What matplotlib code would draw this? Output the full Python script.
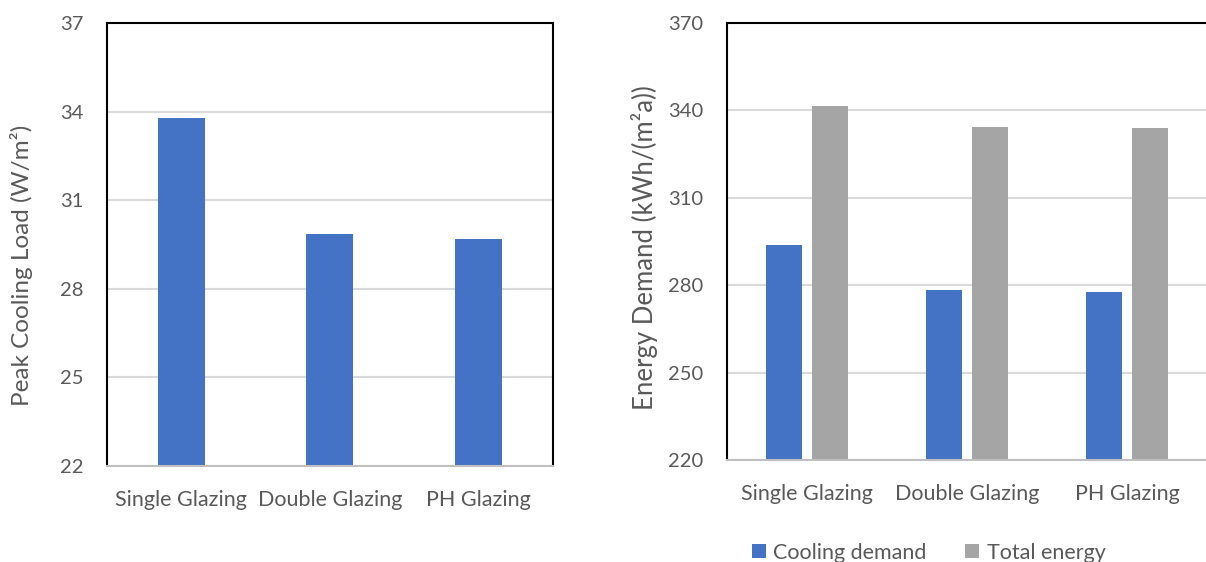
import matplotlib.pyplot as plt
import numpy as np

# Glazing options compared in both panels
glazing = ["Single Glazing", "Double Glazing", "PH Glazing"]

# Peak cooling load, W/m2
peak_load = [33.78, 29.86, 29.68]
load_ticks = [22, 25, 28, 31, 34, 37]

# Annual energy demand, kWh/(m2a)
cooling_demand = [293.7, 278.4, 277.5]
total_energy = [341.4, 334.3, 333.8]
energy_ticks = [220, 250, 280, 310, 340, 370]

BLUE = "#4472c4"
GREY = "#a5a5a5"
TEXT = "#595959"
GRID = "#d9d9d9"

plt.rcParams["font.family"] = ["Lato", "DejaVu Sans"]
plt.rcParams["font.size"] = 15

fig = plt.figure(figsize=(12.06, 5.62), dpi=100)
ax1 = fig.add_axes([0.0887, 0.1708, 0.3698, 0.788])
ax2 = fig.add_axes([0.6028, 0.1815, 0.398, 0.778])


def style_axes(ax, ticks):
    ax.set_ylim(ticks[0], ticks[-1])
    ax.set_yticks(ticks)
    ax.yaxis.grid(True, color=GRID, linewidth=1.5)
    ax.set_axisbelow(True)
    ax.tick_params(length=0, labelcolor=TEXT)
    ax.tick_params(axis="y", pad=17, labelsize=14.5)
    ax.tick_params(axis="x", pad=17, labelsize=15.5)
    for side in ("left", "top", "right"):
        ax.spines[side].set_color("black")
        ax.spines[side].set_linewidth(1.5)
    ax.spines["bottom"].set_color("#bfbfbf")
    ax.spines["bottom"].set_linewidth(1.5)


# Left panel: peak cooling load
x = np.arange(len(glazing))
ax1.bar(x, peak_load, width=0.316, color=BLUE, zorder=2)
ax1.set_xlim(-0.5, len(glazing) - 0.5)
ax1.set_xticks(x)
ax1.set_xticklabels(glazing)
style_axes(ax1, load_ticks)
ax1.set_ylabel("Peak Cooling Load (W/m²)", color=TEXT, fontsize=17.5)
ax1.yaxis.set_label_coords(-0.166, 0.454)

# Right panel: cooling demand vs total energy
w = 0.225
off = (w + 0.06) / 2
ax2.bar(x - off, cooling_demand, width=w, color=BLUE, label="Cooling demand", zorder=2)
ax2.bar(x + off, total_energy, width=w, color=GREY, label="Total energy", zorder=2)
ax2.set_xlim(-0.5, len(glazing) - 0.5)
ax2.set_xticks(x)
ax2.set_xticklabels(glazing)
style_axes(ax2, energy_ticks)
ax2.spines["right"].set_visible(False)
ax2.set_ylabel("Energy Demand (kWh/(m²a))", color=TEXT, fontsize=18.5)
ax2.yaxis.set_label_coords(-0.144, 0.485)

leg = ax2.legend(loc="center", bbox_to_anchor=(0.42, -0.212), ncol=2,
                 frameon=False, handlelength=0.65, handleheight=0.65,
                 columnspacing=1.8, handletextpad=0.35, fontsize=15.5,
                 borderaxespad=0, borderpad=0)
for t in leg.get_texts():
    t.set_color(TEXT)

fig.savefig("out.png", dpi=100)
